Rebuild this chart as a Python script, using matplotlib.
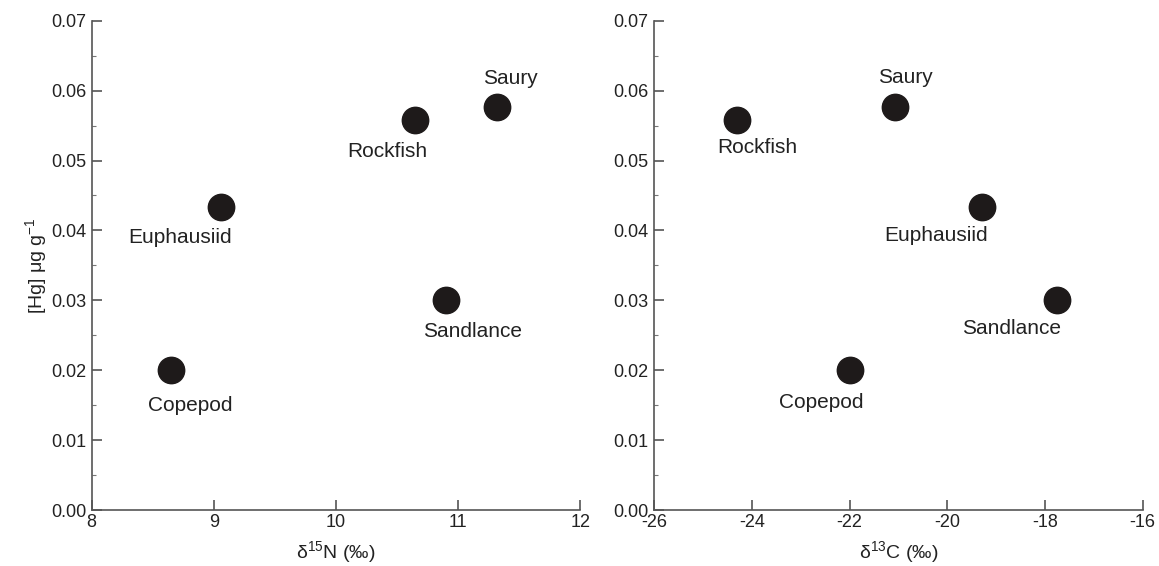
import matplotlib
matplotlib.use("Agg")
import matplotlib.pyplot as plt
from matplotlib.ticker import MultipleLocator

plt.rcParams['font.family'] = ['Liberation Sans', 'DejaVu Sans']
plt.rcParams['mathtext.default'] = 'regular'
plt.rcParams['axes.unicode_minus'] = False

# Data
species = ['Copepod', 'Euphausiid', 'Rockfish', 'Sandlance', 'Saury']
hg = [0.0201, 0.0433, 0.0558, 0.0301, 0.0577]
d15n = [8.65, 9.06, 10.65, 10.90, 11.32]
d13c = [-22.0, -19.29, -24.31, -17.76, -21.08]

# label anchors (data coordinates) for each panel
labels_n = {'Copepod': (8.81, 0.0149), 'Euphausiid': (8.72, 0.0390),
            'Rockfish': (10.42, 0.0513), 'Sandlance': (11.12, 0.0256),
            'Saury': (11.43, 0.0618)}
labels_c = {'Copepod': (-22.58, 0.0154), 'Euphausiid': (-20.23, 0.0393),
            'Rockfish': (-23.88, 0.0519), 'Sandlance': (-18.68, 0.0260),
            'Saury': (-20.86, 0.0619)}

SPINE = '#555555'
DOT = '#1e1a1a'

fig = plt.figure(figsize=(11.59, 5.66), dpi=100)
ax1 = fig.add_axes([0.0791, 0.0989, 0.4216, 0.8645])
ax2 = fig.add_axes([0.5645, 0.0989, 0.4214, 0.8645])


def style(ax, xlim, xstep):
    ax.set_xlim(*xlim)
    ax.set_ylim(0, 0.07)
    ax.xaxis.set_major_locator(MultipleLocator(xstep))
    ax.yaxis.set_major_locator(MultipleLocator(0.01))
    ax.yaxis.set_minor_locator(MultipleLocator(0.005))
    ax.yaxis.set_major_formatter(plt.FuncFormatter(lambda v, p: f"{v:.2f}"))
    for side in ['top', 'right']:
        ax.spines[side].set_visible(False)
    for side in ['left', 'bottom']:
        ax.spines[side].set_color(SPINE)
        ax.spines[side].set_linewidth(1.2)
    ax.tick_params(which='major', direction='in', length=7, width=1.2,
                   color=SPINE, labelsize=13, pad=4, labelcolor='#222222')
    ax.tick_params(which='minor', direction='in', length=3, width=0.8,
                   color='#777777')
    ax.tick_params(axis='x', which='major', pad=3)


ax1.plot(d15n, hg, 'o', ms=19, color=DOT, mec=DOT, clip_on=False)
for name, (x, y) in labels_n.items():
    ax1.text(x, y, name, fontsize=15, ha='center', va='center', color='#222222')
style(ax1, (8, 12), 1)
ax1.set_xlabel(r'δ$^{15}$N (‰)', fontsize=14, labelpad=6, color='#222222')
ax1.set_ylabel(r'[Hg] μg g$^{-1}$', fontsize=14, labelpad=1, color='#222222')

ax2.plot(d13c, hg, 'o', ms=19, color=DOT, mec=DOT, clip_on=False)
for name, (x, y) in labels_c.items():
    ax2.text(x, y, name, fontsize=15, ha='center', va='center', color='#222222')
style(ax2, (-26, -16), 2)
ax2.set_xlabel(r'δ$^{13}$C (‰)', fontsize=14, labelpad=6, color='#222222')

fig.savefig('out.png', dpi=100)
